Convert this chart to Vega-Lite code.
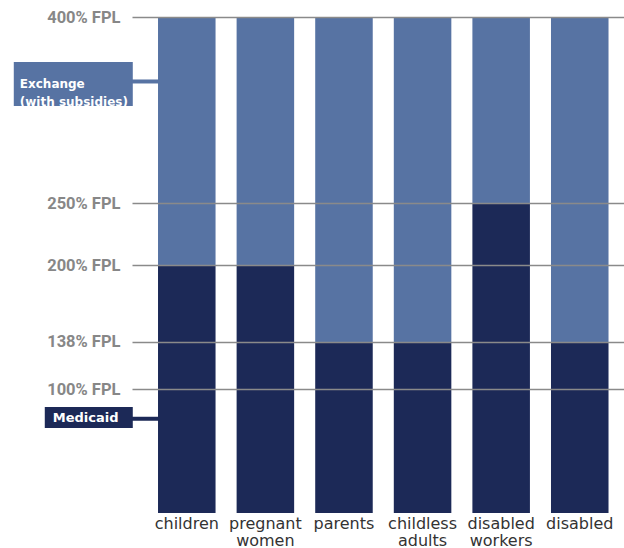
{
  "$schema": "https://vega.github.io/schema/vega-lite/v6.json",
  "autosize": {"type": "none"},
  "padding": {"left": 132, "top": 17, "right": 0, "bottom": 35},
  "width": 492,
  "height": 496,
  "background": "white",
  "config": {"view": {"stroke": null}},
  "datasets": {
    "bars": [
      {"cat": "children", "program": "Medicaid", "value": 200},
      {"cat": "children", "program": "Exchange", "value": 200},
      {"cat": "pregnant women", "program": "Medicaid", "value": 200},
      {"cat": "pregnant women", "program": "Exchange", "value": 200},
      {"cat": "parents", "program": "Medicaid", "value": 138},
      {"cat": "parents", "program": "Exchange", "value": 262},
      {"cat": "childless adults", "program": "Medicaid", "value": 138},
      {"cat": "childless adults", "program": "Exchange", "value": 262},
      {"cat": "disabled workers", "program": "Medicaid", "value": 250},
      {"cat": "disabled workers", "program": "Exchange", "value": 150},
      {"cat": "disabled", "program": "Medicaid", "value": 138},
      {"cat": "disabled", "program": "Exchange", "value": 262}
    ],
    "notes": [
      {"note": "Exchange\n(with subsidies)", "program": "Exchange", "cat": "children", "level": 348},
      {"note": "Medicaid", "program": "Medicaid", "cat": "children", "level": 76}
    ]
  },
  "encoding": {
    "x": {
      "field": "cat", "type": "nominal",
      "sort": ["children", "pregnant women", "parents", "childless adults", "disabled workers", "disabled"],
      "scale": {"paddingInner": 0.268, "paddingOuter": 0.264, "align": 0.627},
      "axis": {
        "title": null, "labelAngle": 0, "ticks": false, "domain": false,
        "labelExpr": "split(datum.label, ' ')",
        "labelFont": "DejaVu Sans", "labelFontSize": 16, "labelColor": "#333333",
        "labelPadding": 2, "labelLineHeight": 17, "labelBaseline": "top"
      }
    }
  },
  "layer": [
    {
      "data": {"name": "bars"},
      "mark": {"type": "bar"},
      "encoding": {
        "y": {
          "field": "value", "type": "quantitative", "stack": "zero",
          "scale": {"domain": [0, 400], "nice": false},
          "axis": {
            "title": null, "values": [100, 138, 200, 250, 400],
            "labelExpr": "datum.value + '% FPL'",
            "labelFont": "Roboto", "labelFontWeight": 700, "labelFontSize": 16.5,
            "labelColor": "#878787", "labelPadding": 12, "ticks": false, "domain": false,
            "grid": true, "gridColor": "#8a8a8a", "gridWidth": 1.5, "zindex": 1
          }
        },
        "color": {
          "field": "program", "type": "nominal",
          "scale": {"domain": ["Medicaid", "Exchange"], "range": ["#1c2957", "#5773a3"]},
          "legend": null
        },
        "order": {"field": "program", "sort": "descending"}
      }
    },
    {
      "data": {"name": "notes"},
      "transform": [{"filter": "datum.program == 'Exchange'"}],
      "mark": {"type": "rule", "strokeWidth": 44, "color": "#5773a3", "xOffset": -173, "x2Offset": -54, "yOffset": 2.5},
      "encoding": {
        "x2": {"field": "cat"},
        "y": {"field": "level", "type": "quantitative"}
      }
    },
    {
      "data": {"name": "notes"},
      "transform": [{"filter": "datum.program == 'Exchange'"}],
      "mark": {"type": "rule", "strokeWidth": 4, "color": "#5773a3", "xOffset": -55, "x2Offset": -28},
      "encoding": {
        "x2": {"field": "cat"},
        "y": {"field": "level", "type": "quantitative"}
      }
    },
    {
      "data": {"name": "notes"},
      "transform": [{"filter": "datum.program == 'Exchange'"}],
      "mark": {"type": "text", "align": "left", "baseline": "middle", "dx": -167, "dy": 2.5, "lineBreak": "\n", "lineHeight": 18, "font": "DejaVu Sans", "fontWeight": "bold", "fontSize": 12, "color": "white"},
      "encoding": {
        "y": {"field": "level", "type": "quantitative"},
        "text": {"field": "note"}
      }
    },
    {
      "data": {"name": "notes"},
      "transform": [{"filter": "datum.program == 'Medicaid'"}],
      "mark": {"type": "rule", "strokeWidth": 21, "color": "#1c2957", "xOffset": -142, "x2Offset": -54, "yOffset": -1.3},
      "encoding": {
        "x2": {"field": "cat"},
        "y": {"field": "level", "type": "quantitative"}
      }
    },
    {
      "data": {"name": "notes"},
      "transform": [{"filter": "datum.program == 'Medicaid'"}],
      "mark": {"type": "rule", "strokeWidth": 4, "color": "#1c2957", "xOffset": -55, "x2Offset": -28},
      "encoding": {
        "x2": {"field": "cat"},
        "y": {"field": "level", "type": "quantitative"}
      }
    },
    {
      "data": {"name": "notes"},
      "transform": [{"filter": "datum.program == 'Medicaid'"}],
      "mark": {"type": "text", "align": "left", "baseline": "middle", "dx": -134, "dy": -0.5, "font": "DejaVu Sans", "fontWeight": "bold", "fontSize": 13, "color": "white"},
      "encoding": {
        "y": {"field": "level", "type": "quantitative"},
        "text": {"field": "note"}
      }
    }
  ]
}
